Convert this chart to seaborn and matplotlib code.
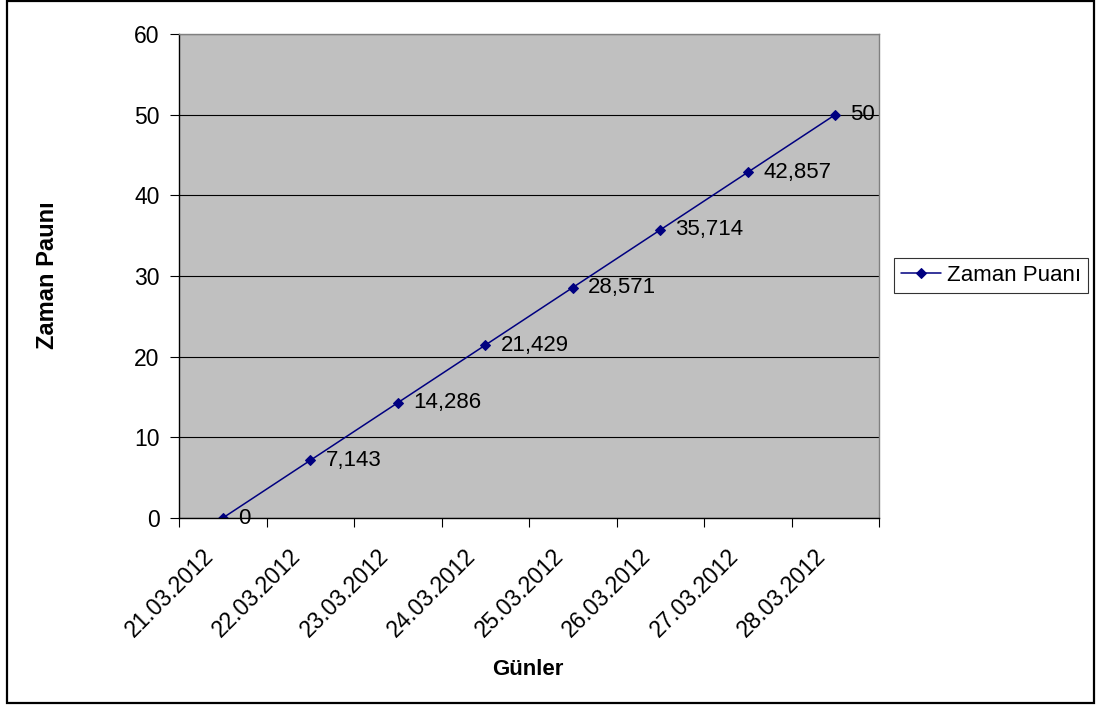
import matplotlib
matplotlib.use("Agg")
import matplotlib.pyplot as plt
from matplotlib.patches import Rectangle
from matplotlib.ticker import FixedLocator, MultipleLocator
from matplotlib.transforms import ScaledTranslation
import seaborn as sns
import pandas as pd

days = ["21.03.2012", "22.03.2012", "23.03.2012", "24.03.2012",
        "25.03.2012", "26.03.2012", "27.03.2012", "28.03.2012"]
scores = [0, 7.143, 14.286, 21.429, 28.571, 35.714, 42.857, 50]
score_labels = ["0", "7,143", "14,286", "21,429", "28,571", "35,714", "42,857", "50"]
series_name = "Zaman Puanı"

sns.set_style("white")
plt.rcParams["font.family"] = ["Liberation Sans", "DejaVu Sans"]
plt.rcParams["text.color"] = "black"
plt.rcParams["xtick.color"] = "black"
plt.rcParams["ytick.color"] = "black"
plt.rcParams["axes.labelcolor"] = "black"

FS = 16

df = pd.DataFrame({"Günler": days, "Puan": scores})

fig = plt.figure(figsize=(10.97, 7.06), dpi=100)
ax = fig.add_axes([179 / 1097, 1 - 518 / 706, 700 / 1097, 484 / 706])
ax.set_facecolor("#C0C0C0")

sns.lineplot(data=df, x="Günler", y="Puan", ax=ax, sort=False,
             color="#000080", linewidth=1.1, marker="D", markersize=5.5,
             markeredgecolor="#000080", label=series_name, legend=False)

for i, (v, t) in enumerate(zip(scores, score_labels)):
    ax.annotate(t, (i, v), xytext=(11, 0), textcoords="offset points",
                va="center", ha="left", fontsize=FS, color="black")

ax.set_xlim(-0.5, len(days) - 0.5)
ax.set_ylim(0, 60)
ax.yaxis.set_major_locator(MultipleLocator(10))
ax.grid(axis="y", color="black", linewidth=0.8)
ax.set_axisbelow(True)

# category labels at centres, tick marks at category boundaries
ax.set_xticks(range(len(days)))
ax.set_xticklabels(days, rotation=45, ha="right", va="center",
                   rotation_mode="anchor", fontsize=FS + 0.5)
ax.xaxis.set_minor_locator(FixedLocator([i - 0.5 for i in range(len(days) + 1)]))
ax.tick_params(axis="x", which="major", length=0, pad=25)
ax.tick_params(axis="x", which="minor", length=6.5, width=0.8, color="black",
               direction="out", bottom=True)
ax.tick_params(axis="y", length=6.5, width=0.8, color="black", direction="out",
               labelsize=FS + 0.5, pad=7.5, left=True)

# nudge the rotated date labels left so they end just under each point
shift = ScaledTranslation(-0.13, 0, fig.dpi_scale_trans)
for lbl in ax.get_xticklabels():
    lbl.set_transform(lbl.get_transform() + shift)

for side in ("left", "bottom"):
    ax.spines[side].set_color("black")
    ax.spines[side].set_linewidth(1.0)
for side in ("top", "right"):
    ax.spines[side].set_color("#808080")
    ax.spines[side].set_linewidth(1.0)

ax.set_xlabel("Günler", fontsize=FS, fontweight="bold")
ax.set_ylabel("Zaman Paunı", fontsize=FS + 1, fontweight="bold")
ax.xaxis.set_label_coords((528 - 179) / 700, -(659 - 518) / 484)
ax.yaxis.set_label_coords(-(179 - 59) / 700, (518 - 275) / 484)

handles, labels = ax.get_legend_handles_labels()
leg = fig.legend(handles, labels, loc="center left",
                 bbox_to_anchor=(894 / 1097, 1 - 275.5 / 706), fontsize=FS,
                 frameon=True, fancybox=False, edgecolor="black",
                 borderpad=0.3, handlelength=1.8, handletextpad=0.3,
                 borderaxespad=0)
leg.get_frame().set_linewidth(0.8)

fig.patches.append(Rectangle((7 / 1097, 3 / 706), 1087 / 1097, 702 / 706,
                             transform=fig.transFigure, fill=False,
                             edgecolor="black", linewidth=1.6))

fig.savefig("out.png", dpi=100, facecolor="white")
